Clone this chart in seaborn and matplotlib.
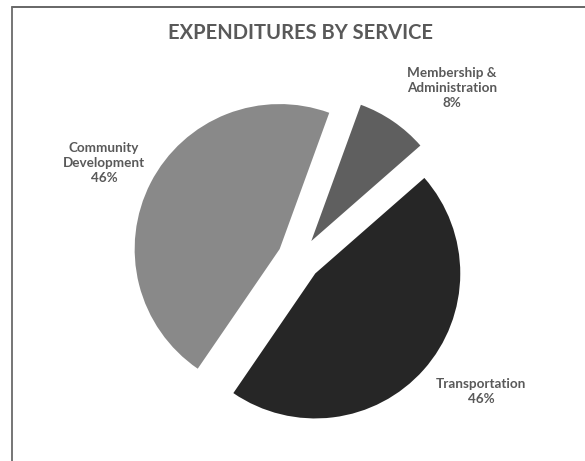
import matplotlib
matplotlib.use("Agg")
import matplotlib.pyplot as plt
import seaborn as sns
from matplotlib.lines import Line2D

# Expenditure shares by service, listed clockwise from the top of the pie
services = ["Membership &\nAdministration", "Transportation", "Community\nDevelopment"]
shares = [8, 46, 46]
slice_colors = ["#5f5f5f", "#262626", "#898989"]
chart_title = "EXPENDITURES BY SERVICE"

sns.set_theme(style="white")
plt.rcParams["font.family"] = ["Lato", "DejaVu Sans"]

W, H = 585, 461
fig = plt.figure(figsize=(W / 100, H / 100), dpi=100)
fig.patch.set_facecolor("white")
ax = fig.add_axes([0, 0, 1, 1])

# pie geometry in pixels (y measured from the top edge)
R = 145
cx, cy = 299, 259

palette = sns.color_palette(slice_colors)
wedges, _ = ax.pie(
    shares,
    colors=palette,
    startangle=70,
    counterclock=False,
    explode=[0.15] * len(shares),
    radius=1,
    wedgeprops=dict(linewidth=0),
)
ax.set_xlim(-cx / R, (W - cx) / R)
ax.set_ylim(-(H - cy) / R, cy / R)
ax.set_aspect("equal")
ax.axis("off")

# data label placement (pixel centres)
label_pos = [(452, 88), (481, 391), (104, 163)]
text_color = "#595959"
for name, share, (px, py) in zip(services, shares, label_pos):
    fig.text(px / W, 1 - py / H, f"{name}\n{share}%",
             ha="center", va="center", multialignment="center",
             fontsize=9.7, fontweight="bold", color=text_color,
             linespacing=1.3)

fig.text(300 / W, 1 - 33 / H, chart_title, ha="center", va="center",
         fontsize=14.5, fontweight="bold", color=text_color)

# chart frame (top and left edges)
fig.add_artist(Line2D([12 / W, 1], [1 - 7 / H, 1 - 7 / H],
                      transform=fig.transFigure, color="#5a5a5a", lw=1.3))
fig.add_artist(Line2D([12 / W, 12 / W], [0, 1 - 7 / H],
                      transform=fig.transFigure, color="#6a6a6a", lw=1.3))

fig.savefig("out.png", dpi=100)
